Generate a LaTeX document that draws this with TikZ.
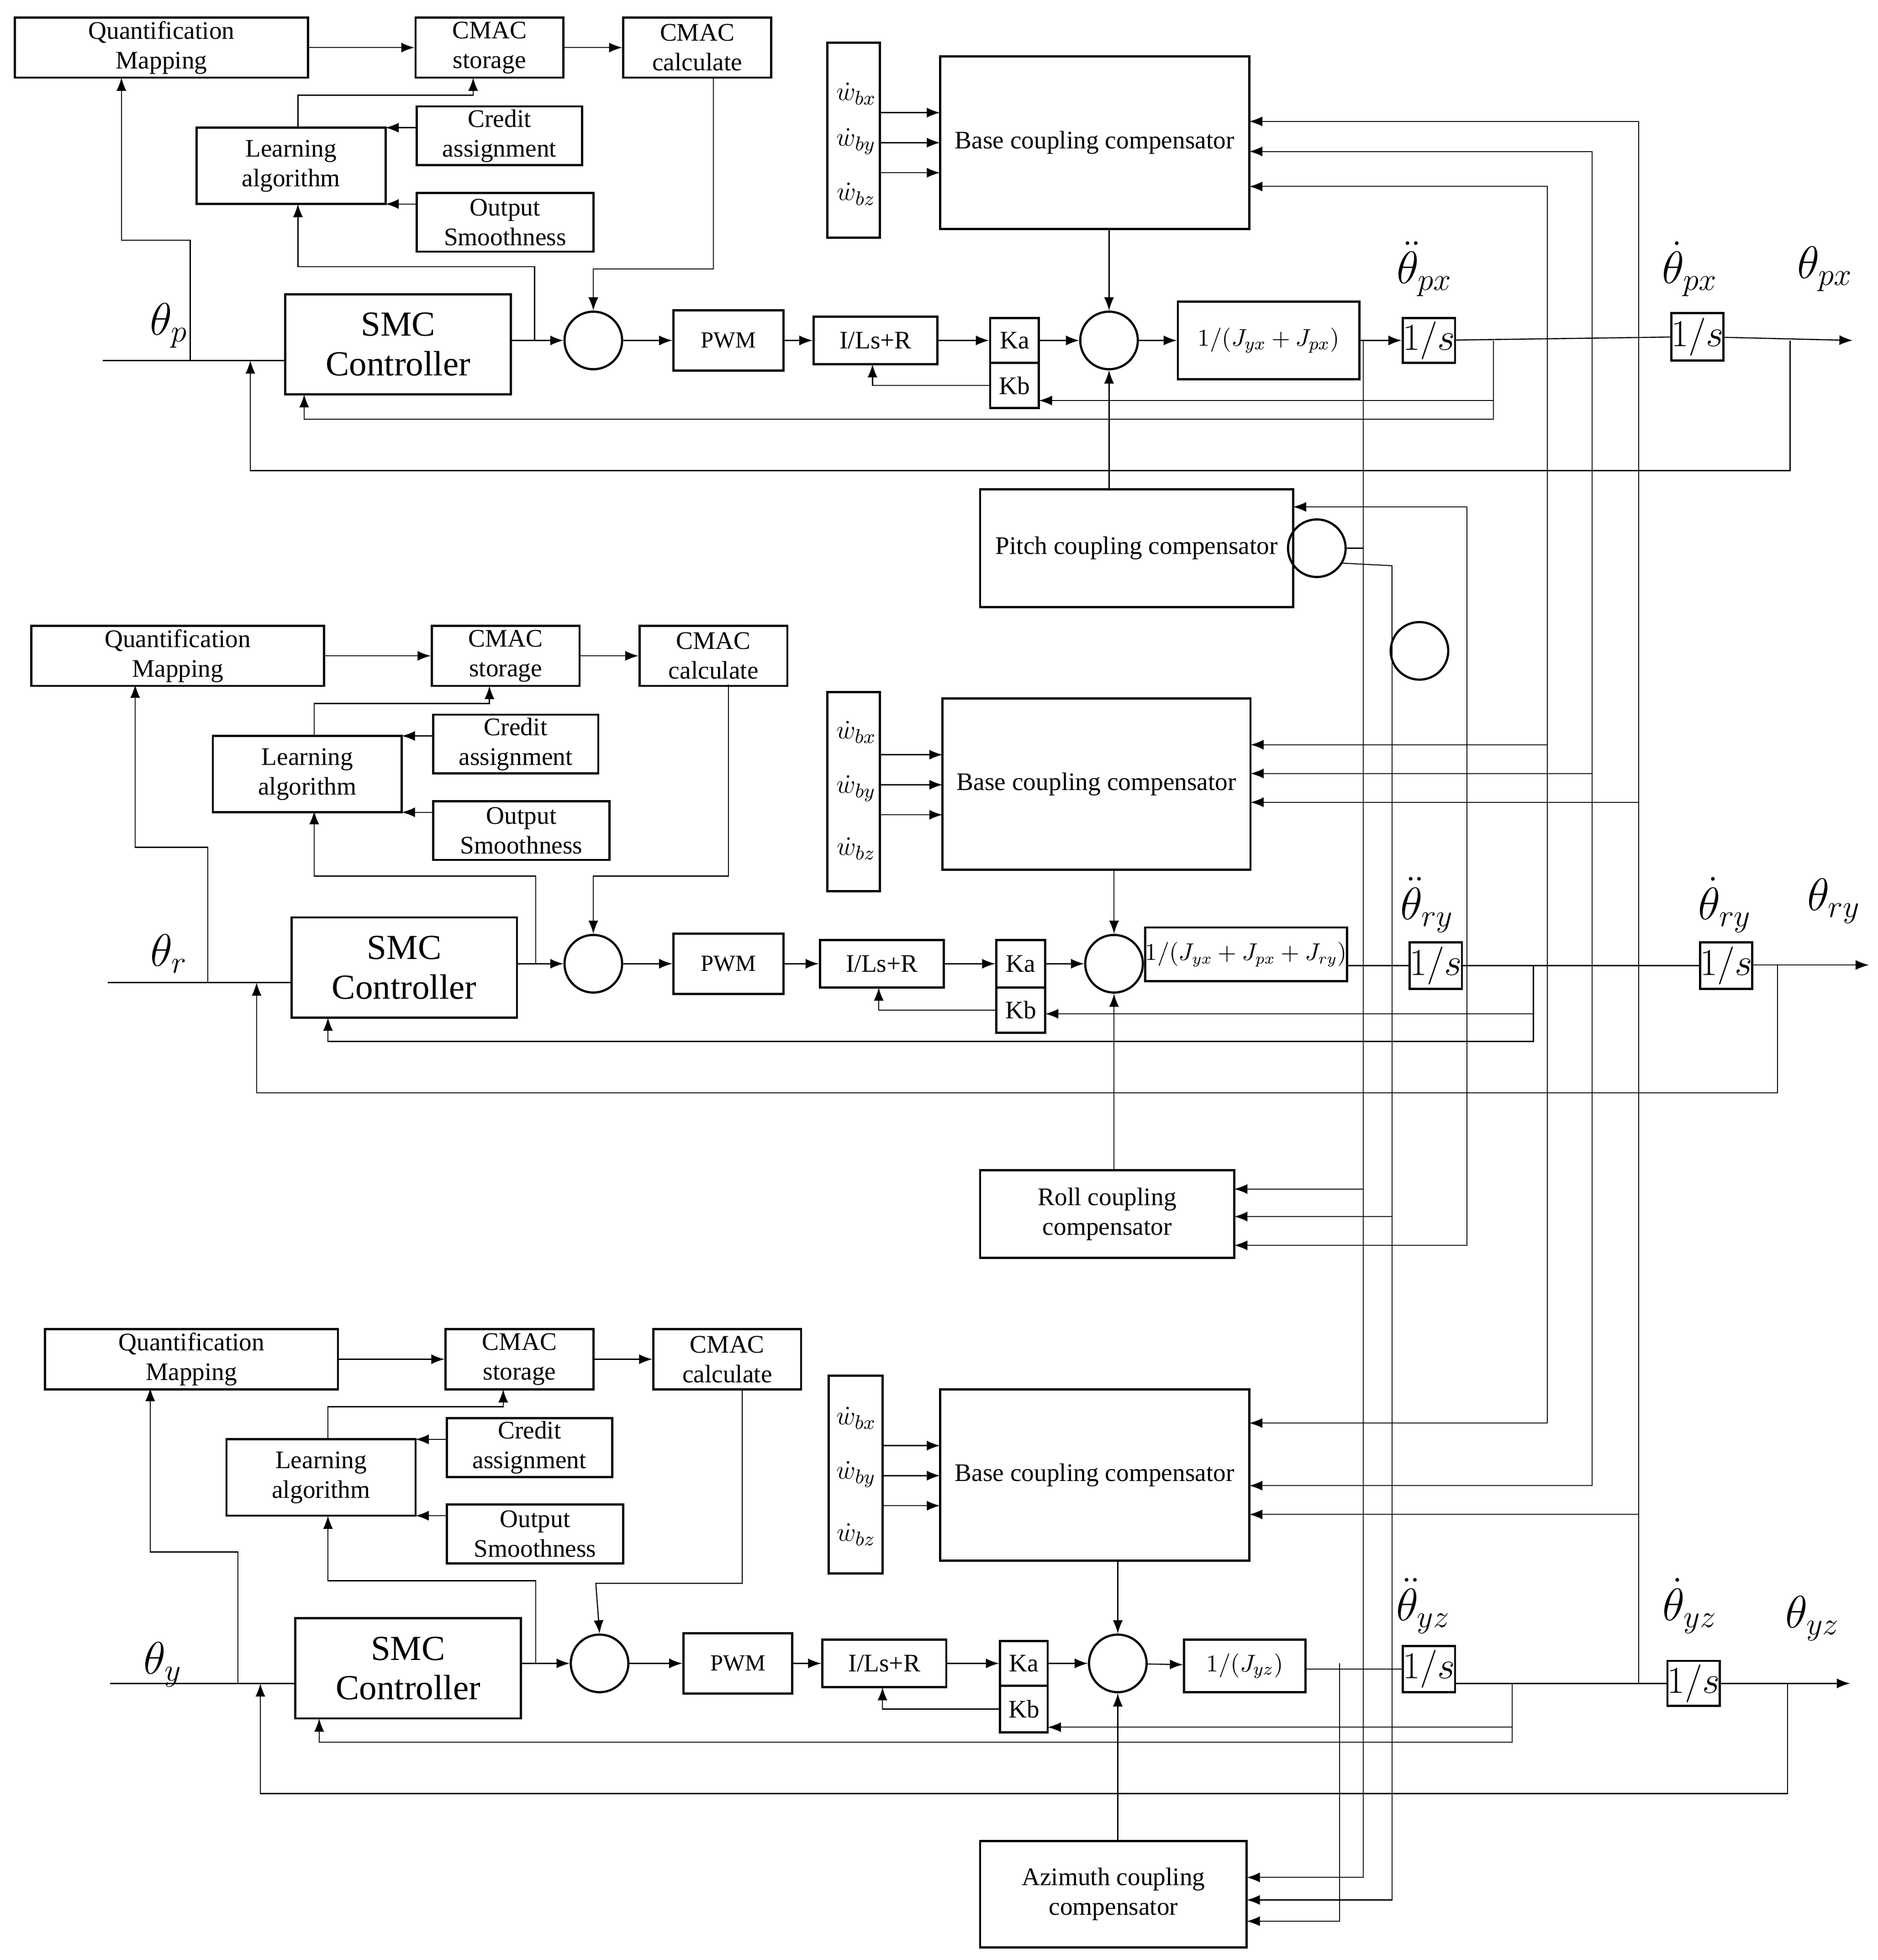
\documentclass[tikz,border=0pt]{standalone}
\usepackage{fontspec}
\setmainfont{Liberation Serif}
\usetikzlibrary{arrows.meta}
\newcommand\bx[7][]{\node[blk,#1,minimum width={(#5-#3)*0.02cm},minimum height={(#6-#4)*0.02cm}] (#2) at ({(#3+#5)/2},{(#4+#6)/2}) {#7};}
\newcommand\cmacgrp[3]{%
\begin{scope}[shift={(#2,#3)}]
\bx{#1q}{12}{14}{246}{62}{Quantification\\Mapping}
\bx{#1st}{332}{14}{450}{62}{CMAC\\storage}
\bx{#1ca}{498}{14}{616}{62}{CMAC\\calculate}
\bx{#1le}{157}{102}{308}{163}{Learning\\algorithm}
\bx{#1cr}{333}{85}{465}{132}{Credit\\assignment}
\bx{#1ou}{333}{154}{474}{201}{Output\\Smoothness}
\draw[arr] (#1q.east) -- (#1st.west);
\draw[arr] (#1st.east) -- (#1ca.west);
\draw[arr] (333,102) -- (308,102);
\draw[arr] (333,163) -- (308,163);
\draw[arr] (238,102) |- (378,76) -- (378,62);
\end{scope}}
\begin{document}
\begin{tikzpicture}[x=0.02cm,y=-0.02cm,
  >={Latex[length=6pt,width=4.5pt]},
  blk/.style={draw,line width=1pt,align=center,inner sep=0pt,font=\fontsize{11.5}{13.5}\selectfont},
  sum/.style={draw,circle,line width=1pt,minimum size=0.92cm,inner sep=0pt},
  arr/.style={->,line width=0.5pt},
  ln/.style={line width=0.5pt},
  bus/.style={line width=0.45pt},
  big/.style={font=\fontsize{22}{24}\selectfont},
  ints/.style={font=\fontsize{16}{18}\selectfont},
  jf/.style={font=\fontsize{11}{13}\selectfont},
  smc/.style={font=\fontsize{16}{18}\selectfont},
  wl/.style={font=\fontsize{13}{15}\selectfont,inner sep=0pt}]
\useasboundingbox (0,0) rectangle (1500,1566);

% ================= ROW 1 =================
\cmacgrp{a}{0}{0}
\bx[smc]{asmc}{228}{235}{408}{315}{SMC\\Controller}
\node[sum] (as1) at (474,272) {};
\bx[font=\fontsize{10.5}{12}\selectfont]{apwm}{538}{248}{626}{296}{PWM}
\bx{ail}{650}{253}{749}{291}{I/Ls+R}
\bx{aka}{791}{254}{830}{290}{Ka}
\bx{akb}{791}{290}{830}{326}{Kb}
\node[sum] (as2) at (886,272) {};
\bx[jf]{aj}{941}{241}{1086}{303}{$1/(J_{yx}+J_{px})$}
\bx[ints]{ai1}{1122}{254}{1161}{290}{$1/s$}
\bx[ints]{ai2}{1337}{250}{1375}{288}{$1/s$}
\bx{aw}{661}{34}{703}{190}{}
\node[wl] at (684,75) {$\dot w_{bx}$};
\node[wl] at (684,113) {$\dot w_{by}$};
\node[wl] at (684,155) {$\dot w_{bz}$};
\bx{abase}{751}{45}{998}{183}{Base coupling compensator}
\draw[arr] (703,90) -- (751,90);
\draw[arr] (703,114) -- (751,114);
\draw[arr] (703,138) -- (751,138);
\node[big] at (135,260) {$\theta_p$};
\node[big] at (1138,215) {$\ddot\theta_{px}$};
\node[big] at (1350,215) {$\dot\theta_{px}$};
\node[big] at (1458,215) {$\theta_{px}$};
\coordinate (ain) at (82,288);
\coordinate (aout) at (1480,272);
\draw[ln] (ain) -- (228,288);
\draw[arr] (152,288) -- (152,192) -- (97,192) -- (97,62);
\draw[arr] (asmc.east |- as1) -- (as1);
\draw[arr] (427,272) -- (427,213) -- (238,213) -- (238,163);
\draw[arr] (570,62) -- (570,215) -- (474,215) -- (as1.north);
\draw[arr] (as1) -- (apwm);
\draw[arr] (apwm) -- (ail);
\draw[arr] (ail) -- (aka);
\draw[arr] (aka.east) -- (as2);
\draw[arr] (as2) -- (aj);
\draw[arr] (aj) -- (ai1);
\draw[ln] (ai1) -- (ai2);
\draw[arr] (ai2) -- (aout);
\draw[arr] (abase.south -| as2) -- (as2.north);
\draw[arr] (1193,272) -- (1193,320) -- (830,320);
\draw[arr] (1193,320) -- (1193,335) -- (243,335) -- (243,315);
\draw[arr] (akb.west) -| (697,291);
\draw[arr] (1430,272) -- (1430,376) -- (200,376) -- (200,288);

% pitch
\bx{apitch}{783}{391}{1033}{485}{Pitch coupling compensator}
\node[sum] (apc) at (1052,438) {};
\node[sum] (xc) at (1134,520) {};
\draw[arr] (apitch.north -| as2) -- (as2.south);

% ================= ROW 2 =================
\cmacgrp{b}{13}{486}
\bx[smc]{bsmc}{233}{733}{413}{813}{SMC\\Controller}
\node[sum] (bs1) at (474,770) {};
\bx[font=\fontsize{10.5}{12}\selectfont]{bpwm}{538}{746}{626}{794}{PWM}
\bx{bil}{655}{751}{754}{789}{I/Ls+R}
\bx{bka}{796}{751}{835}{789}{Ka}
\bx{bkb}{796}{789}{835}{825}{Kb}
\node[sum] (bs2) at (890,770) {};
\bx[font=\fontsize{10.5}{12}\selectfont]{bj}{919}{741}{1072}{784}{$1/(J_{yx}+J_{px}+J_{ry})$}
\bx[ints]{bi1}{1128}{753}{1166}{790}{$1/s$}
\bx[ints]{bi2}{1360}{753}{1398}{790}{$1/s$}
\bx{bw}{661}{553}{703}{712}{}
\node[wl] at (684,585) {$\dot w_{bx}$};
\node[wl] at (684,630) {$\dot w_{by}$};
\node[wl] at (684,678) {$\dot w_{bz}$};
\bx{bbase}{753}{558}{999}{695}{Base coupling compensator}
\draw[arr] (703,603) -- (753,603);
\draw[arr] (703,627) -- (753,627);
\draw[arr] (703,651) -- (753,651);
\node[big] at (135,762) {$\theta_r$};
\node[big] at (1140,723) {$\ddot\theta_{ry}$};
\node[big] at (1378,723) {$\dot\theta_{ry}$};
\node[big] at (1465,720) {$\theta_{ry}$};
\coordinate (bin) at (86,785);
\coordinate (bout) at (1493,771);
\draw[ln] (bin) -- (233,785);
\draw[arr] (166,785) -- (166,677) -- (108,677) -- (108,547);
\draw[arr] (bsmc.east |- bs1) -- (bs1);
\draw[arr] (428,770) -- (428,700) -- (251,700) -- (251,648);
\draw[arr] (582,547) -- (582,700) -- (474,700) -- (bs1.north);
\draw[arr] (bs1) -- (bpwm);
\draw[arr] (bpwm) -- (bil);
\draw[arr] (bil) -- (bka);
\draw[arr] (bka) -- (bs2);
\draw[ln] (bs2) -- (bj);
\draw[ln] (bj.east |- bi1) -- (bi1);
\draw[ln] (bi1) -- (bi2);
\draw[arr] (bi2.east |- bout) -- (bout);
\draw[arr] (bbase.south -| bs2) -- (bs2.north);
\draw[arr] (1225,771) -- (1225,810) -- (835,810);
\draw[arr] (1225,810) -- (1225,832) -- (262,832) -- (262,813);
\draw[arr] (bkb.west) -| (702,789);
\draw[arr] (1420,771) -- (1420,873) -- (205,873) -- (205,785);

% roll
\bx{broll}{783}{935}{986}{1005}{Roll coupling\\compensator}
\draw[arr] (broll.north -| bs2) -- (bs2.south);

% ================= ROW 3 =================
\cmacgrp{c}{24}{1048}
\bx[smc]{csmc}{236}{1293}{416}{1373}{SMC\\Controller}
\node[sum] (cs1) at (479,1329) {};
\bx[font=\fontsize{10.5}{12}\selectfont]{cpwm}{546}{1305}{633}{1353}{PWM}
\bx{cil}{657}{1310}{756}{1348}{I/Ls+R}
\bx{cka}{799}{1311}{837}{1347}{Ka}
\bx{ckb}{799}{1347}{837}{1384}{Kb}
\node[sum] (cs2) at (893,1329) {};
\bx[jf]{cj}{946}{1310}{1043}{1352}{$1/(J_{yz})$}
\bx[ints]{ci1}{1122}{1315}{1161}{1352}{$1/s$}
\bx[ints]{ci2}{1334}{1327}{1372}{1363}{$1/s$}
\bx{cw}{662}{1099}{705}{1257}{}
\node[wl] at (684,1133) {$\dot w_{bx}$};
\node[wl] at (684,1178) {$\dot w_{by}$};
\node[wl] at (684,1226) {$\dot w_{bz}$};
\bx{cbase}{751}{1110}{998}{1247}{Base coupling compensator}
\draw[arr] (705,1155) -- (751,1155);
\draw[arr] (705,1179) -- (751,1179);
\draw[arr] (705,1203) -- (751,1203);
\node[big] at (130,1330) {$\theta_y$};
\node[big] at (1137,1283) {$\ddot\theta_{yz}$};
\node[big] at (1350,1283) {$\dot\theta_{yz}$};
\node[big] at (1448,1293) {$\theta_{yz}$};
\coordinate (cin) at (88,1345);
\coordinate (cout) at (1478,1345);
\draw[ln] (cin) -- (236,1345);
\draw[arr] (190,1345) -- (190,1240) -- (120,1240) -- (120,1109);
\draw[arr] (csmc.east |- cs1) -- (cs1);
\draw[arr] (428,1329) -- (428,1263) -- (262,1263) -- (262,1211);
\draw[arr] (593,1109) -- (593,1265) -- (476,1265) -- (cs1.north);
\draw[arr] (cs1) -- (cpwm);
\draw[arr] (cpwm) -- (cil);
\draw[arr] (cil) -- (cka);
\draw[arr] (cka) -- (cs2);
\draw[arr] (cs2) -- (cj);
\draw[ln] (cj.east |- ci1) -- (ci1);
\draw[ln] (ci1.east |- cout) -- (ci2.west |- cout);
\draw[arr] (ci2.east |- cout) -- (cout);
\draw[arr] (cbase.south -| cs2) -- (cs2.north);
\draw[arr] (1208,1345) -- (1208,1380) -- (837,1380);
\draw[arr] (1208,1380) -- (1208,1392) -- (255,1392) -- (255,1373);
\draw[arr] (ckb.west) -| (705,1348);
\draw[arr] (1428,1345) -- (1428,1433) -- (208,1433) -- (208,1345);

% azimuth
\bx{cazi}{783}{1471}{996}{1556}{Azimuth coupling\\compensator}
\draw[arr] (cazi.north -| cs2) -- (cs2.south);

% ================= BUS =================
\draw[bus,->] (1309,1345) -- (1309,97) -- (998,97);
\draw[bus,->] (1309,641) -- (999,641);
\draw[bus,->] (1309,1210) -- (998,1210);
\draw[bus,->] (1272,771) -- (1272,121) -- (998,121);
\draw[bus,->] (1272,618) -- (999,618);
\draw[bus,->] (1272,771) -- (1272,1187) -- (998,1187);
\draw[bus,->] (1236,272) -- (1236,149) -- (998,149);
\draw[bus,->] (1236,595) -- (999,595);
\draw[bus,->] (1236,272) -- (1236,1137) -- (998,1137);
\draw[bus,->] (1172,405) -- (1033,405);
\draw[bus,->] (1172,405) -- (1172,995) -- (986,995);
\draw[bus] (1089,272) -- (1089,438) -- (apc.east);
\draw[bus,->] (1089,438) -- (1089,950) -- (986,950);
\draw[bus,->] (1089,950) -- (1089,1500) -- (996,1500);
\draw[bus] (apc.-30) -- (1112,452) -- (1112,520) -- (xc.west);
\draw[bus,->] (1112,452) -- (1112,972) -- (986,972);
\draw[bus,->] (1112,972) -- (1112,1518) -- (996,1518);
\draw[bus,->] (1070,1329) -- (1070,1535) -- (996,1535);
\end{tikzpicture}
\end{document}
